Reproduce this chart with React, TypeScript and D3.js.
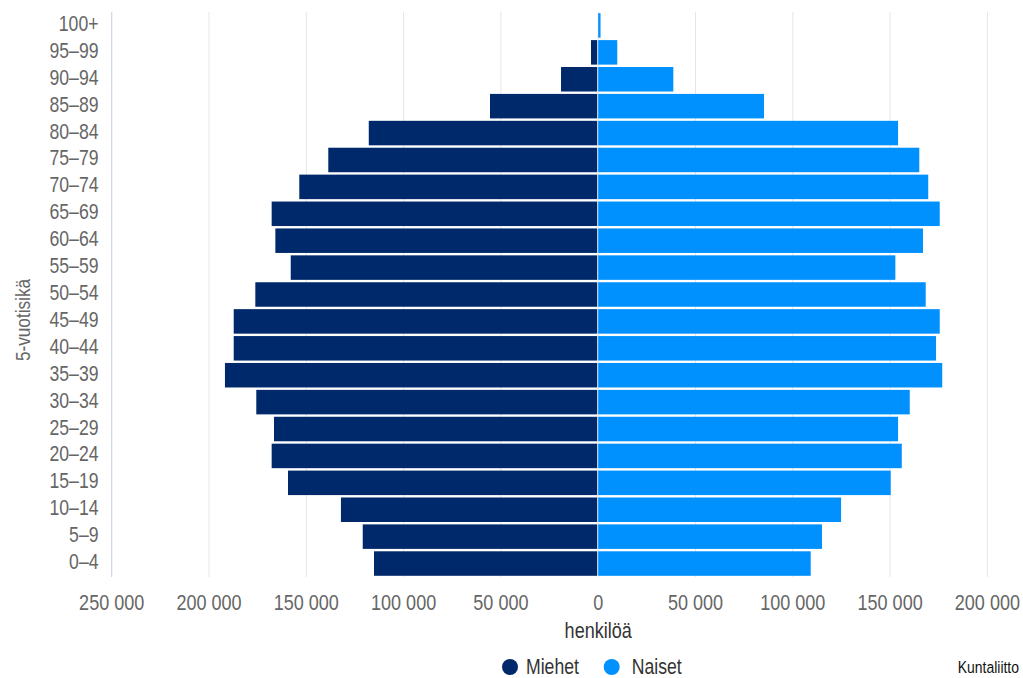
import React from "react";
import * as d3 from "d3";

const ageGroups = [
  "0–4", "5–9", "10–14", "15–19", "20–24", "25–29", "30–34", "35–39", "40–44",
  "45–49", "50–54", "55–59", "60–64", "65–69", "70–74", "75–79", "80–84",
  "85–89", "90–94", "95–99", "100+",
];
const men = [
  115200, 121000, 132200, 159400, 167800, 166600, 175700, 191800, 187300,
  187300, 176200, 158000, 165900, 167800, 153600, 138700, 117900,
  55600, 19100, 3700, 250,
];
const women = [
  109200, 115000, 124800, 150300, 156000, 154100, 160100, 176800, 173600,
  175500, 168300, 152700, 166900, 175500, 169600, 165000, 154100,
  85200, 38600, 9800, 1200,
];
const xTicks = [-250000, -200000, -150000, -100000, -50000, 0, 50000, 100000, 150000, 200000];
const seriesNames = ["Miehet", "Naiset"];
const colors = ["#00296B", "#0091FF"];

const W = 1023;
const H = 678;
const FONT = "'Liberation Sans', Arial, sans-serif";
const SX = 0.82;

function T(props: {
  x: number;
  y: number;
  size: number;
  fill: string;
  anchor?: string;
  rotate?: number;
  children: React.ReactNode;
}) {
  const { x, y, size, fill, anchor = "start", rotate = 0, children } = props;
  return (
    <text
      transform={`translate(${x},${y})${rotate ? ` rotate(${rotate})` : ""} scale(${SX},1)`}
      textAnchor={anchor}
      fontSize={size}
      fill={fill}
    >
      {children}
    </text>
  );
}

export default function App() {
  const left = 111.7;
  const right = 987.4;
  const top = 12;
  const bottom = 577;
  const x = d3.scaleLinear().domain([-250000, 200000]).range([left, right]);
  const y = d3.scaleBand<string>().domain([...ageGroups].reverse()).range([top, bottom]).padding(0);
  const bw = y.bandwidth();
  const x0 = x(0);
  const fmt = (v: number) => d3.format(",")(Math.abs(v)).replace(/,/g, " ");

  return (
    <svg
      width={W}
      height={H}
      style={{ position: "absolute", left: 0, top: 0, background: "#fff" }}
      fontFamily={FONT}
    >
      {xTicks.map((t) => (
        <line key={"g" + t} x1={x(t)} x2={x(t)} y1={top} y2={bottom} stroke="#e6e6e6" strokeWidth={1} />
      ))}
      <line x1={left} x2={left} y1={top} y2={bottom} stroke="#ccd6eb" strokeWidth={1} />
      {ageGroups.map((g, i) => {
        const yy = (y(g) as number) + 1.2;
        const h = bw - 2.4;
        const mv = men[i];
        const wv = women[i];
        return (
          <g key={g}>
            {mv > 0 && (
              <rect x={x(-mv)} y={yy} width={Math.max(0, x0 - 1 - x(-mv))} height={h} fill={colors[0]} />
            )}
            <rect x={x0} y={yy} width={Math.max(0, x(wv) - x0)} height={h} fill={colors[1]} />
          </g>
        );
      })}
      {ageGroups.map((g) => (
        <T key={"l" + g} x={98.5} y={(y(g) as number) + bw / 2 + 5.5} anchor="end" size={21.5} fill="#666">
          {g}
        </T>
      ))}
      {xTicks.map((t) => (
        <T key={"t" + t} x={x(t)} y={610} anchor="middle" size={22} fill="#666">
          {fmt(t)}
        </T>
      ))}
      <T x={x0} y={638} anchor="middle" size={22} fill="#333">
        henkilöä
      </T>
      <T x={30} y={320} rotate={-90} anchor="middle" size={21} fill="#666">
        5-vuotisikä
      </T>
      <g>
        <circle cx={510} cy={667} r={8} fill={colors[0]} />
        <T x={526} y={674} size={21.5} fill="#333">{seriesNames[0]}</T>
        <circle cx={611.7} cy={667} r={8} fill={colors[1]} />
        <T x={631.7} y={674} size={21.5} fill="#333">{seriesNames[1]}</T>
      </g>
      <T x={1019} y={673} anchor="end" size={17} fill="#111">
        Kuntaliitto
      </T>
    </svg>
  );
}
